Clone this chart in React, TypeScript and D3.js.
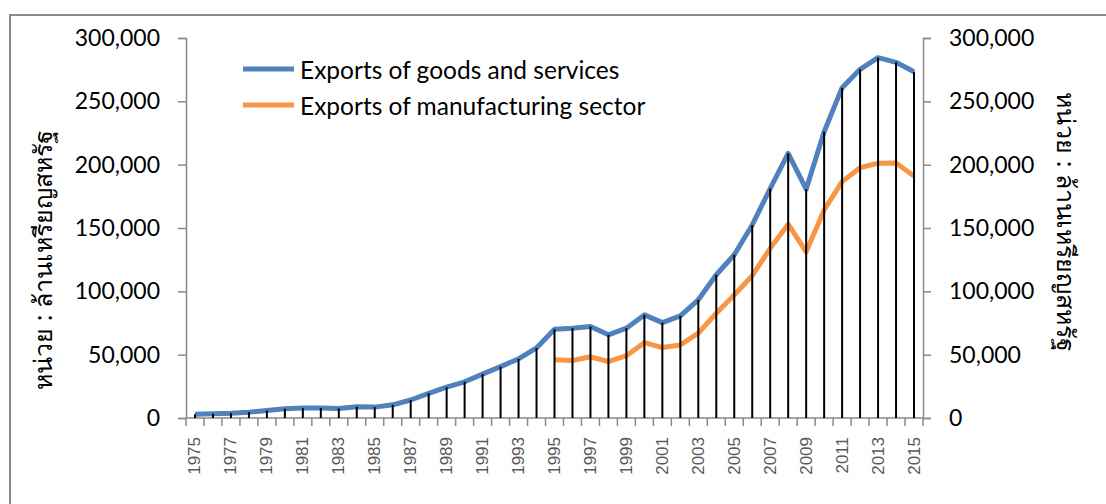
import React, { useEffect, useRef } from "react";
import * as d3 from "d3";

const years: number[] = d3.range(1975, 2016);
const goodsServices: number[] = [
  2900, 3400, 3800, 4600, 5900, 7300, 7900, 7900, 7500, 8900, 8600,
  10400, 14200, 19500, 24300, 28600, 34600, 40600, 46700, 55300, 70000,
  70900, 72200, 65700, 70900, 81400, 75300, 80600, 93300, 113100, 128900,
  152400, 181200, 208900, 180600, 226000, 260800, 275300, 284500, 280800, 273400,
];
const manufacturing: (number | null)[] = [
  null, null, null, null, null, null, null, null, null, null, null,
  null, null, null, null, null, null, null, null, null, 45900,
  45400, 48300, 44600, 49200, 59500, 55600, 57700, 67000, 82700, 97200,
  112300, 134000, 153000, 131200, 164200, 186600, 197600, 201200, 201400, 191000,
];
const yTicks: number[] = [0, 50000, 100000, 150000, 200000, 250000, 300000];
const seriesNames: string[] = ["Exports of goods and services", "Exports of manufacturing sector"];
const seriesColors: string[] = ["#4F81BD", "#F79646"];
const axisTitle = "หน่วย : ล้านเหรียญสหรัฐ";

export default function App() {
  const ref = useRef<SVGSVGElement>(null);
  useEffect(() => {
    const svg = d3.select(ref.current);
    svg.selectAll("*").remove();
    const W = 1106, H = 504;
    const left = 186, right = 923, top = 38, bottom = 418;
    const font = "Lato, 'Open Sans', sans-serif";

    // frame
    svg.append("path")
      .attr("d", `M10,${H}V15H${W}`)
      .attr("fill", "none").attr("stroke", "#8a8a8a").attr("stroke-width", 2);

    const x = d3.scaleBand<number>().domain(years).range([left, right]).padding(0);
    const y = d3.scaleLinear().domain([0, 300000]).range([bottom, top]);
    const cx = (yr: number) => (x(yr) as number) + x.bandwidth() / 2;
    const axisColor = "#8a8a8a";

    // left axis
    const yl = svg.append("g").attr("transform", `translate(${left},0)`)
      .call(d3.axisLeft(y).tickValues(yTicks).tickSize(8).tickPadding(18)
        .tickFormat((d) => d3.format(",")(d as number)));
    yl.select(".domain").attr("stroke", axisColor).attr("stroke-width", 1.5);
    yl.selectAll(".tick line").attr("stroke", axisColor).attr("stroke-width", 1.5);
    yl.selectAll(".tick text").attr("font-family", font).attr("font-size", 23).attr("fill", "#000");

    // right axis
    const yr = svg.append("g").attr("transform", `translate(${right},0)`)
      .call(d3.axisRight(y).tickValues(yTicks).tickSize(8).tickPadding(18)
        .tickFormat((d) => d3.format(",")(d as number)));
    yr.select(".domain").attr("stroke", axisColor).attr("stroke-width", 1.5);
    yr.selectAll(".tick line").attr("stroke", axisColor).attr("stroke-width", 1.5);
    yr.selectAll(".tick text").attr("font-family", font).attr("font-size", 23).attr("fill", "#000");

    // x axis
    const gx = svg.append("g");
    gx.append("line").attr("x1", left).attr("x2", right).attr("y1", bottom).attr("y2", bottom)
      .attr("stroke", axisColor).attr("stroke-width", 1.5);
    const bounds = years.map((yy) => x(yy) as number).concat([right]);
    gx.selectAll("line.tk").data(bounds).enter().append("line").attr("class", "tk")
      .attr("x1", (d) => d).attr("x2", (d) => d).attr("y1", bottom).attr("y2", bottom + 8)
      .attr("stroke", axisColor).attr("stroke-width", 1.5);
    gx.selectAll("text").data(years.filter((yy) => (yy - 1975) % 2 === 0)).enter().append("text")
      .attr("transform", (d) => `translate(${cx(d)},437) rotate(-90)`)
      .attr("text-anchor", "end").attr("dominant-baseline", "central")
      .attr("font-family", "'Liberation Sans', Arial, sans-serif").attr("font-size", 17)
      .attr("fill", "#595959").text((d) => String(d));

    // lines
    const line = d3.line<[number, number | null]>()
      .defined((d) => d[1] !== null)
      .x((d) => cx(d[0]))
      .y((d) => y(d[1] as number));
    const dataSets = [goodsServices as (number | null)[], manufacturing];
    dataSets.forEach((vals, i) => {
      svg.append("path")
        .attr("d", line(years.map((yy, j) => [yy, vals[j]] as [number, number | null])) || "")
        .attr("fill", "none").attr("stroke", seriesColors[i]).attr("stroke-width", 5)
        .attr("stroke-linejoin", "round");
    });

    // drop lines
    svg.append("g").selectAll("line").data(years).enter().append("line")
      .attr("x1", (d) => cx(d)).attr("x2", (d) => cx(d))
      .attr("y1", (_d, j) => y(goodsServices[j])).attr("y2", bottom)
      .attr("stroke", "#000").attr("stroke-width", 2);

    // legend
    const lg = svg.append("g");
    seriesNames.forEach((name, i) => {
      const ly = 69 + i * 36;
      lg.append("line").attr("x1", 243).attr("x2", 294).attr("y1", ly).attr("y2", ly)
        .attr("stroke", seriesColors[i]).attr("stroke-width", 5);
      lg.append("text").attr("x", 300).attr("y", ly).attr("dominant-baseline", "central")
        .attr("font-family", font).attr("font-size", 24.5).attr("fill", "#000").text(name);
    });

    // axis titles
    svg.append("text").attr("transform", `translate(42,260) rotate(-90)`)
      .attr("text-anchor", "middle").attr("dominant-baseline", "central")
      .attr("font-family", "'Noto Sans', sans-serif").attr("font-size", 25).attr("fill", "#000")
      .text(axisTitle);
    svg.append("text").attr("transform", `translate(1067,222) rotate(90)`)
      .attr("text-anchor", "middle").attr("dominant-baseline", "central")
      .attr("font-family", "'Noto Sans', sans-serif").attr("font-size", 25).attr("fill", "#000")
      .text(axisTitle);
  }, []);
  return (
    <svg ref={ref} width={1106} height={504}
      style={{ position: "absolute", left: 0, top: 0, background: "#fff" }} />
  );
}
